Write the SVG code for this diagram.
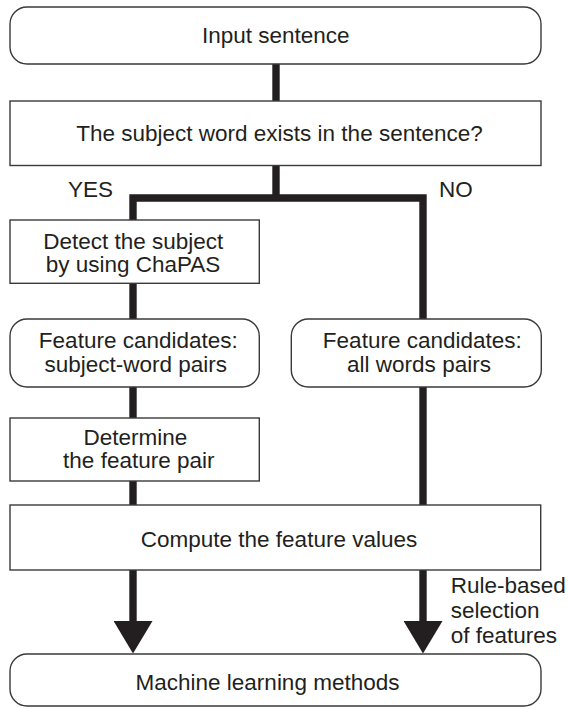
<svg xmlns="http://www.w3.org/2000/svg" width="569" height="709" viewBox="0 0 569 709">
<style>
.box{fill:#fff;stroke:#3a3a3a;stroke-width:1.4}
.t{font-family:"Liberation Sans",Arial,sans-serif;font-size:22.5px;fill:#231f20;text-anchor:middle}
.s{text-anchor:start}
.c{fill:none;stroke:#231f20;stroke-width:7.4;stroke-linejoin:miter;stroke-linecap:butt}
</style>
<defs>
<marker id="ah" markerUnits="userSpaceOnUse" markerWidth="33" markerHeight="39" viewBox="0 0 33 39" refX="0" refY="19.5" orient="auto">
<path d="M0,0 L32.6,19.5 L0,39 Z" fill="#231f20"/>
</marker>
</defs>
<g id="connectors">
<path class="c" d="M276,64 V101"/>
<path class="c" d="M276,165 V198"/>
<path class="c" d="M133,220 V198 H423 V319"/>
<path class="c" d="M133,283 V319"/>
<path class="c" d="M133,387 V418"/>
<path class="c" d="M133,481 V505"/>
<path class="c" d="M423,387 V505"/>
<path class="c" d="M133,570 V621" marker-end="url(#ah)"/>
<path class="c" d="M423,570 V621" marker-end="url(#ah)"/>
</g>
<g id="input">
<rect class="box" x="10" y="7" width="531" height="57" rx="17"/>
<text class="t" x="275.7" y="42.7">Input sentence</text>
</g>
<g id="decision">
<rect class="box" x="10" y="101" width="531" height="64.5"/>
<text class="t" x="279.5" y="141">The subject word exists in the sentence?</text>
</g>
<g id="labels">
<text class="t s" x="68" y="197">YES</text>
<text class="t s" x="439" y="197">NO</text>
<text class="t s" x="450.7" y="593.3">Rule-based</text>
<text class="t s" x="450.7" y="618.3">selection</text>
<text class="t s" x="450.7" y="643.3">of features</text>
</g>
<g id="detect">
<rect class="box" x="10" y="220" width="249.3" height="63.3"/>
<text class="t" x="133.3" y="249">Detect the subject</text>
<text class="t" x="133" y="271.7">by using ChaPAS</text>
</g>
<g id="cand-left">
<rect class="box" x="10" y="319" width="249.3" height="68" rx="17"/>
<text class="t" x="138.3" y="348.3">Feature candidates:</text>
<text class="t" x="135.8" y="371.6">subject-word pairs</text>
</g>
<g id="cand-right">
<rect class="box" x="291.3" y="319" width="250" height="68" rx="17"/>
<text class="t" x="422.3" y="348.3">Feature candidates:</text>
<text class="t" x="419" y="371.6">all words pairs</text>
</g>
<g id="determine">
<rect class="box" x="10" y="418" width="249.3" height="63"/>
<text class="t" x="135.3" y="445">Determine</text>
<text class="t" x="138.8" y="467.8">the feature pair</text>
</g>
<g id="compute">
<rect class="box" x="10" y="505" width="530.7" height="65"/>
<text class="t" x="279" y="546.7">Compute the feature values</text>
</g>
<g id="ml">
<rect class="box" x="10" y="654" width="531" height="52" rx="17"/>
<text class="t" x="267.5" y="690">Machine learning methods</text>
</g>
</svg>
